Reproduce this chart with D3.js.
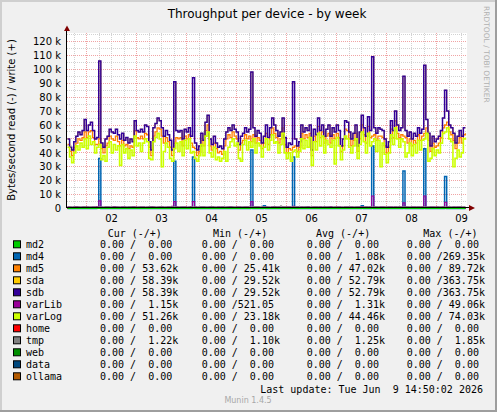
<!DOCTYPE html>
<html>
<head>
<meta charset="utf-8">
<title>Throughput per device - by week</title>
<style>
  body {margin: 0; background: #fff;}
  svg text {font-family: "DejaVu Sans", sans-serif;}
  .legend text {font-family: "DejaVu Sans Mono", monospace; font-size: 10px; white-space: pre;}
  .grid line {stroke-dasharray: 1,1; shape-rendering: crispEdges;}
  .grid path {display: none;}
  .minor line {stroke: #d2d2d2;}
  .major line {stroke: #f0a4a4;}
  .axis path {display: none;}
  .axis line {display: none;}
  .series {fill: none;}
</style>
</head>
<body>
<svg width="497" height="412"></svg>
<script src="https://d3js.org/d3.v7.min.js"></script>
<script>
// devices, in munin draw order, with the default munin palette
var devices = ["md2", "md4", "md5", "sda", "sdb", "varLib", "varLog", "home", "tmp", "web", "data", "ollama"];
var colors  = ["#00cc00", "#0066b3", "#ff8000", "#ffcc00", "#330099", "#990099", "#ccff00", "#ff0000", "#808080", "#008f00", "#00487d", "#b35a00"];

// legend figures (read / write)
var curText = ["0.00 /  0.00 ", "0.00 /  0.00 ", "0.00 / 53.62k", "0.00 / 58.39k", "0.00 / 58.39k", "0.00 /  1.15k", "0.00 / 51.26k", "0.00 /  0.00 ", "0.00 /  1.22k", "0.00 /  0.00 ", "0.00 /  0.00 ", "0.00 /  0.00 "];
var minText = ["0.00 /  0.00 ", "0.00 /  0.00 ", "0.00 / 25.41k", "0.00 / 29.52k", "0.00 / 29.52k", "0.00 /521.05 ", "0.00 / 23.18k", "0.00 /  0.00 ", "0.00 /  1.10k", "0.00 /  0.00 ", "0.00 /  0.00 ", "0.00 /  0.00 "];
var avgText = ["0.00 /  0.00 ", "0.00 /  1.08k", "0.00 / 47.02k", "0.00 / 52.79k", "0.00 / 52.79k", "0.00 /  1.31k", "0.00 / 44.46k", "0.00 /  0.00 ", "0.00 /  1.25k", "0.00 /  0.00 ", "0.00 /  0.00 ", "0.00 /  0.00 "];
var maxText = ["0.00 /  0.00 ", "0.00 /269.35k", "0.00 / 89.72k", "0.00 /363.75k", "0.00 /363.75k", "0.00 / 49.06k", "0.00 / 74.03k", "0.00 /  0.00 ", "0.00 /  1.85k", "0.00 /  0.00 ", "0.00 /  0.00 ", "0.00 /  0.00 "];

// axis labels
var dayLabels = ["02", "03", "04", "05", "06", "07", "08", "09"];
var yTickValues = [0, 10, 20, 30, 40, 50, 60, 70, 80, 90, 100, 110, 120];

// hourly write rates in kB/s, Jun 1 14:50 -> Jun 9 14:50 (192 samples)
var md4W = [
  0,0,0,0,0,0,0,0,0,0,0,0,
  0,0,1,36,0,0,0,0,0,0,0,0,
  0,0,0,0,0,0,0,0,0,0,0,0,
  0,0,0,0,0,0,0,0,0,0,0,0,
  0,0,0,34,0,0,0,0,0,0,0,0,
  37,0,0,0,0,0,0,0,0,0,0,0,
  0,0,0,0,0,0,0,0,0,0,0,0,
  0,0,0,0,42,0,0,0,0,0,2,0,
  0,0,0,0,0,0,0,0,0,0,0,0,
  37,0,0,0,0,0,0,0,0,0,0,0,
  0,0,0,0,0,0,0,0,0,0,0,0,
  0,0,0,0,0,0,0,0,0,2,0,0,
  0,0,45,0,0,0,0,0,0,0,0,0,
  0,0,0,0,0,27,0,0,0,0,0,0,
  0,0,0,43,0,0,0,0,0,0,0,0,
  0,23,0,0,0,0,0,0,0,0,0,0
];
var md5W = [
  46,41,38,44,47,50,49,51,55,51,55,56,
  51,46,46,50,43,40,45,47,52,50,49,52,
  48,45,49,45,46,43,45,44,56,51,50,52,
  50,54,53,44,38,52,55,58,57,52,47,51,
  48,44,38,47,51,50,51,45,52,50,53,47,
  44,43,38,41,49,45,56,60,45,42,47,43,
  40,41,39,45,50,53,51,55,52,50,42,47,
  49,53,50,52,48,53,47,51,49,43,47,54,
  46,53,58,54,51,47,50,58,46,40,43,42,
  44,45,41,44,54,50,53,51,54,38,52,48,
  59,51,55,47,52,54,47,53,50,54,51,41,
  45,57,56,50,45,49,54,41,50,60,53,47,
  59,51,52,53,49,52,52,51,45,40,44,57,
  51,63,54,51,53,52,51,47,50,45,49,47,
  53,49,52,54,58,49,41,47,44,45,47,51,
  58,60,62,55,53,49,43,47,51,47,53,54
];
var sdbW = [
  50,44,42,48,52,55,53,56,64,56,60,62,
  56,50,51,106,47,44,50,52,57,55,54,57,
  53,50,54,49,51,47,50,48,63,56,55,57,
  55,60,59,48,42,58,61,65,63,58,52,56,
  53,49,42,91,56,55,56,50,57,55,58,52,
  94,47,42,45,54,49,62,67,50,46,52,47,
  44,45,43,50,55,58,56,60,57,55,46,52,
  54,58,55,57,98,58,52,56,54,47,52,60,
  51,58,65,60,56,52,55,65,51,44,47,46,
  91,50,45,48,60,55,58,56,60,42,57,53,
  65,56,60,52,57,60,52,58,55,60,56,45,
  50,63,62,55,50,54,60,45,55,67,58,52,
  66,56,109,58,54,58,57,56,50,44,48,63,
  56,70,60,56,58,95,56,52,55,50,54,52,
  58,54,57,103,64,54,45,52,48,50,52,56,
  65,85,70,60,58,54,47,52,56,52,58,58
];
// sda carries the same traffic as sdb (identical legend figures)
var sdaW = sdbW.slice();
var varLibW = [
  1.2,1.0,0.9,1.1,1.3,1.0,0.8,1.2,1.4,1.1,0.9,1.0,
  1.2,1.1,1.3,5.5,1.0,0.8,1.1,1.2,0.9,1.0,1.3,1.1,
  1.0,0.9,1.2,1.1,0.8,1.0,1.2,1.3,1.1,0.9,1.0,1.2,
  1.1,0.9,1.0,1.2,1.4,1.1,0.9,1.0,1.2,1.1,0.8,1.0,
  1.2,1.0,1.6,5.0,1.1,0.9,1.0,1.2,1.1,0.9,1.0,1.3,
  5.0,1.1,0.9,1.0,1.2,1.1,0.8,1.0,1.2,1.3,1.0,0.9,
  1.1,1.0,1.2,0.9,1.0,1.1,1.3,1.0,0.9,1.2,1.1,1.0,
  1.0,1.2,1.1,0.9,5.0,1.0,1.1,1.2,0.9,1.0,1.1,1.2,
  1.0,0.9,1.1,1.3,1.0,1.2,0.9,1.1,1.0,1.2,1.1,0.9,
  1.5,1.0,1.1,0.9,1.2,1.0,1.1,1.3,0.9,1.0,1.2,1.1,
  1.0,1.1,0.9,1.2,1.0,1.1,1.3,0.9,1.0,1.2,1.1,1.0,
  0.9,1.1,1.2,1.0,1.1,0.9,1.0,1.2,1.1,1.4,1.0,1.1,
  1.0,1.2,9.0,1.1,1.0,0.9,1.2,1.1,1.0,0.9,1.1,1.2,
  1.0,1.1,0.9,1.2,1.0,4.0,1.1,1.0,0.9,1.2,1.1,1.0,
  1.2,1.0,1.1,9.0,1.0,0.9,1.1,1.2,1.0,1.1,0.9,1.0,
  1.1,4.5,1.2,1.0,0.9,1.1,1.0,1.2,1.1,0.9,1.0,1.15
];
var varLogW = [
  44,37,33,40,45,42,47,44,50,43,52,46,
  48,40,44,46,35,38,34,44,48,40,46,42,
  45,31,46,40,43,36,42,38,52,45,47,41,
  47,50,48,36,35,48,51,54,50,30,41,47,
  44,36,34,43,47,41,48,38,49,43,50,40,
  41,36,34,38,46,38,52,55,40,37,44,35,
  37,34,36,41,34,44,48,50,45,47,36,34,
  46,49,42,48,44,50,40,47,45,37,44,50,
  42,49,53,47,48,40,46,54,40,36,40,34,
  41,42,37,41,50,43,49,44,51,31,48,42,
  54,45,52,40,49,46,44,49,32,51,45,35,
  42,52,50,44,40,45,50,36,46,55,48,40,
  54,45,48,50,41,49,30,47,39,33,40,53,
  46,58,50,44,50,48,37,40,47,38,46,40,
  49,42,49,50,54,34,36,43,38,42,40,47,
  54,55,58,50,48,30,36,42,37,40,50,51
];
var tmpW = [
  1.2,1.3,1.2,1.1,1.2,1.3,1.2,1.2,1.4,1.2,1.3,1.2,
  1.2,1.1,1.2,1.3,1.2,1.1,1.2,1.3,1.2,1.2,1.1,1.2,
  1.3,1.2,1.1,1.2,1.2,1.4,1.3,1.2,1.1,1.2,1.3,1.2,
  1.2,1.1,1.2,1.3,1.2,1.2,1.1,1.2,1.3,1.2,1.2,1.1,
  1.2,1.3,1.2,1.2,1.1,1.2,1.3,1.2,1.2,1.1,1.2,1.3,
  1.2,1.2,1.1,1.2,1.3,1.2,1.2,1.1,1.2,1.4,1.2,1.2,
  1.1,1.2,1.3,1.2,1.2,1.1,1.2,1.3,1.2,1.2,1.1,1.2,
  1.3,1.2,1.2,1.1,1.2,1.3,1.2,1.2,1.1,1.2,1.3,1.2,
  1.2,1.1,1.2,1.3,1.2,1.2,1.85,1.2,1.3,1.2,1.1,1.2,
  1.2,1.3,1.2,1.1,1.2,1.2,1.3,1.2,1.1,1.2,1.2,1.3,
  1.2,1.1,1.2,1.3,1.2,1.2,1.1,1.2,1.3,1.2,1.2,1.1,
  1.2,1.3,1.2,1.2,1.1,1.2,1.3,1.2,1.2,1.1,1.2,1.3,
  1.2,1.2,1.1,1.2,1.3,1.2,1.2,1.1,1.2,1.3,1.2,1.2,
  1.1,1.2,1.3,1.2,1.2,1.1,1.2,1.3,1.2,1.2,1.1,1.2,
  1.3,1.2,1.2,1.1,1.2,1.3,1.2,1.2,1.1,1.2,1.3,1.2,
  1.2,1.1,1.2,1.3,1.2,1.2,1.1,1.2,1.3,1.2,1.2,1.22
];
// devices that moved nothing all week
var idleW = Array(192).fill(0);

var writeSeries = [idleW, md4W, md5W, sdaW, sdbW, varLibW, varLogW, idleW, tmpW, idleW, idleW, idleW];
var lineWidth   = [1, 1.5, 1.3, 1, 1.5, 1.2, 1.6, 1, 1, 1, 1, 1];

var svg = d3.select("svg"),
    W = +svg.attr("width"),
    H = +svg.attr("height"),
    margin = {left: 67, top: 33, right: 30, bottom: 204},
    width = 400,
    height = 175;

var start = new Date(2026, 5, 1, 14, 50, 2),
    end = new Date(2026, 5, 9, 14, 50, 2);

var x = d3.scaleTime().domain([start, end]).range([margin.left, margin.left + width]);
var y = d3.scaleLinear().domain([0, 125.75]).range([margin.top + height, margin.top]);

var times = writeSeries[0].map(function(d, i) { return d3.timeHour.offset(start, i); });

// frame
svg.append("rect").attr("width", W).attr("height", H).attr("fill", "#f0f0f0");
svg.append("path").attr("d", "M1,"+H+"V1H"+W).attr("fill", "none").attr("stroke", "#cfcfcf").attr("stroke-width", 2);
svg.append("path").attr("d", "M0,"+(H-1)+"H"+(W-1)+"V0").attr("fill", "none").attr("stroke", "#9e9e9e").attr("stroke-width", 2);

// canvas
svg.append("rect")
    .attr("x", margin.left).attr("y", margin.top)
    .attr("width", width).attr("height", height)
    .attr("fill", "#fff");

// grid: minor every 5k / 6h, major every 10k / midnight
var minorY = d3.range(5, 126, 10);
svg.append("g").attr("class", "grid minor")
    .attr("transform", "translate(" + margin.left + ",0)")
    .call(d3.axisLeft(y).tickValues(minorY).tickSize(-width).tickFormat(""));
svg.append("g").attr("class", "grid minor")
    .attr("transform", "translate(0," + margin.top + ")")
    .call(d3.axisBottom(x).ticks(d3.timeHour.every(6)).tickSize(height).tickFormat(""));
svg.append("g").attr("class", "grid major")
    .attr("transform", "translate(" + margin.left + ",0)")
    .call(d3.axisLeft(y).tickValues(yTickValues.slice(1)).tickSize(-width).tickFormat(""));
svg.append("g").attr("class", "grid major")
    .attr("transform", "translate(0," + margin.top + ")")
    .call(d3.axisBottom(x).ticks(d3.timeDay).tickSize(height - 1).tickFormat(""));

// data
var line = d3.line()
    .curve(d3.curveStepAfter)
    .x(function(d, i) { return x(times[i]); })
    .y(function(d) { return y(d); });

var plot = svg.append("g").attr("transform", "translate(0.5,0.5)");
plot.selectAll(".series")
    .data(writeSeries)
  .enter().append("path")
    .attr("class", "series")
    .attr("d", function(d) { return line(d); })
    .attr("stroke", function(d, i) { return colors[i]; })
    .attr("stroke-width", function(d, i) { return lineWidth[i]; });

// axes lines and arrows
svg.append("line").attr("x1", 66.5).attr("x2", 66.5).attr("y1", 30).attr("y2", 208)
    .attr("stroke", "#000").attr("stroke-width", 1);
svg.append("line").attr("x1", 66).attr("x2", 470).attr("y1", 207.5).attr("y2", 207.5)
    .attr("stroke", "#000").attr("stroke-width", 1);
// read side: all zero, md2 ends up on top
plot.append("path")
    .attr("class", "series")
    .attr("d", line(idleW))
    .attr("stroke", colors[0])
    .attr("stroke-width", 1)
    .attr("shape-rendering", "crispEdges");
svg.append("path").attr("d", "M64,31L70,31L67,25.5Z").attr("fill", "#800000");
svg.append("path").attr("d", "M469,205L469,211L475,208Z").attr("fill", "#800000");

// tick labels
svg.append("g").attr("class", "axis")
    .attr("transform", "translate(" + margin.left + ",0.5)")
    .style("font", "10px 'DejaVu Sans'")
    .call(d3.axisLeft(y).tickValues(yTickValues).tickSize(0).tickPadding(6)
      .tickFormat(function(d) { return d ? d + " k" : "0"; }));

svg.append("g").attr("class", "axis")
    .attr("transform", "translate(0," + (margin.top + height) + ")")
    .style("font", "10px 'DejaVu Sans'")
    .call(d3.axisBottom(x)
      .tickValues(dayLabels.map(function(d) { return new Date(2026, 5, +d, 12); }))
      .tickSize(0).tickPadding(7)
      .tickFormat(function(d, i) { return dayLabels[i]; }));

svg.selectAll(".axis text").attr("fill", "#000");

// titles
svg.append("text")
    .attr("x", 267).attr("y", 17.5)
    .attr("text-anchor", "middle")
    .style("font-size", "12px")
    .text("Throughput per device - by week");

svg.append("text")
    .attr("transform", "translate(15,120) rotate(-90)")
    .attr("text-anchor", "middle")
    .style("font-size", "10px")
    .text("Bytes/second read (-) / write (+)");

svg.append("text")
    .attr("transform", "translate(484,6) rotate(90)")
    .attr("fill", "#b0b0b0")
    .style("font-size", "7.5px")
    .text("RRDTOOL / TOBI OETIKER");

// legend
var legend = svg.append("g").attr("class", "legend");
var headers = [["Cur (-/+)", 107.7], ["Min (-/+)", 213], ["Avg (-/+)", 316], ["Max (-/+)", 423.3]];
legend.selectAll(".hdr")
    .data(headers)
  .enter().append("text")
    .attr("x", function(d) { return d[1]; })
    .attr("y", 236.5)
    .text(function(d) { return d[0]; });

var rows = legend.selectAll(".row")
    .data(devices)
  .enter().append("g")
    .attr("class", "row")
    .attr("transform", function(d, i) { return "translate(0," + (244.3 + i * 12) + ")"; });

rows.append("rect")
    .attr("x", 13.5).attr("y", -3.5)
    .attr("width", 7).attr("height", 7)
    .attr("fill", function(d, i) { return colors[i]; })
    .attr("stroke", "#000");

rows.append("text").attr("x", 26).attr("y", 3.5).text(function(d) { return d; });
rows.append("text").attr("x", 100).attr("y", 3.5).text(function(d, i) { return curText[i]; });
rows.append("text").attr("x", 201.7).attr("y", 3.5).text(function(d, i) { return minText[i]; });
rows.append("text").attr("x", 306.7).attr("y", 3.5).text(function(d, i) { return avgText[i]; });
rows.append("text").attr("x", 406.7).attr("y", 3.5).text(function(d, i) { return maxText[i]; });

legend.append("text")
    .attr("x", 483).attr("y", 392.8)
    .attr("text-anchor", "end")
    .text("Last update: Tue Jun  9 14:50:02 2026");

svg.append("text")
    .attr("x", 248).attr("y", 403)
    .attr("text-anchor", "middle")
    .attr("fill", "#a8a8a8")
    .style("font-size", "8px")
    .text("Munin 1.4.5");
</script>
</body>
</html>
